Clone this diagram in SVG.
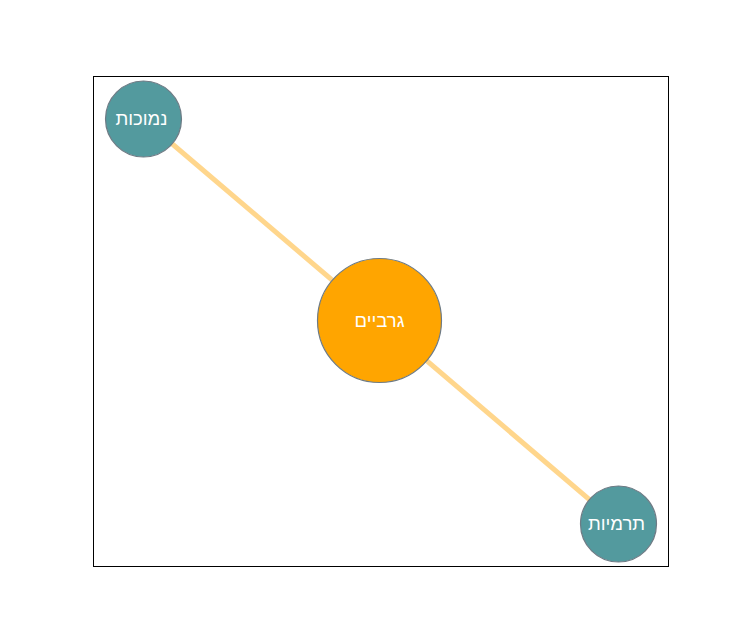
<svg xmlns="http://www.w3.org/2000/svg" width="742" height="636" viewBox="0 0 742 636">
<style>
.node{stroke:#6e7b85;stroke-width:1.2}
.teal{fill:#539a9e}
.orange{fill:#ffa500}
.lbl{font-family:"Liberation Sans",Arial,sans-serif;font-size:18.5px;fill:#ffffff;text-anchor:middle;dominant-baseline:central}
.edge{stroke:#ffa500;stroke-opacity:0.45;stroke-width:5;stroke-linecap:round}
</style>
<rect x="0" y="0" width="742" height="636" fill="#ffffff"/>
<rect x="93.5" y="76.5" width="575" height="490" fill="none" stroke="#000000" stroke-width="1"/>
<g id="connectors">
<line class="edge" x1="143" y1="119" x2="379" y2="320"/>
<line class="edge" x1="379" y1="320" x2="618" y2="524"/>
</g>
<g id="node-namochot">
<circle class="node teal" cx="143.5" cy="119" r="38"/>
<text class="lbl" x="141.5" y="118">נמוכות</text>
</g>
<g id="node-garbayim">
<circle class="node orange" cx="379.5" cy="320.5" r="62"/>
<text class="lbl" x="379.5" y="320">גרביים</text>
</g>
<g id="node-termiyot">
<circle class="node teal" cx="618.5" cy="524" r="38"/>
<text class="lbl" x="616.5" y="523">תרמיות</text>
</g>
</svg>
